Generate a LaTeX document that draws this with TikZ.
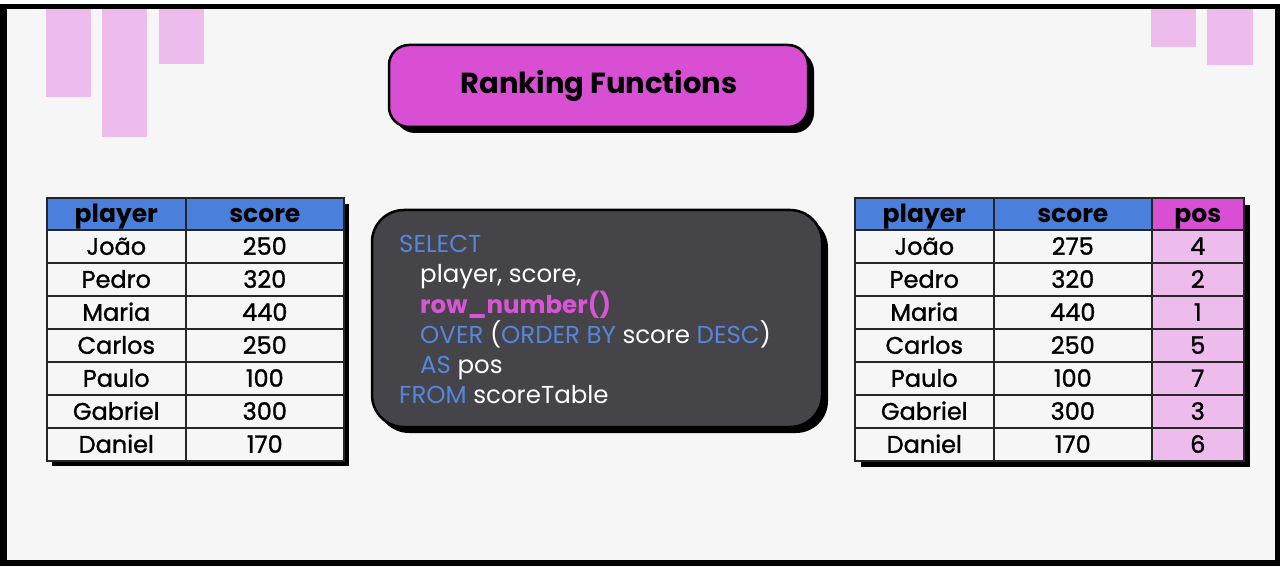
\documentclass[tikz,border=0pt]{standalone}
\usepackage{fontspec}
\setmainfont{Poppins}
\newfontfamily\medfont[FakeBold=1.2]{Poppins}
\definecolor{bg}{HTML}{F6F6F6}
\definecolor{pinkl}{HTML}{EEBCEC}
\definecolor{mag}{HTML}{D94FD4}
\definecolor{blu}{HTML}{4A80DC}
\definecolor{codebg}{HTML}{454449}
\definecolor{codeblue}{HTML}{5586DE}
\definecolor{codemag}{HTML}{DA55D6}
\begin{document}
\begin{tikzpicture}[x=1pt,y=-1pt,
  cell/.style={draw=black!85, line width=1.6pt, fill=bg, inner sep=0pt, anchor=north west,
    minimum height=33pt, text height=17pt, text depth=0pt,
    font=\fontsize{24}{24}\medfont},
  hcell/.style={cell, fill=blu, minimum height=32pt, font=\fontsize{25}{25}\selectfont\bfseries},
  deco/.style={fill=pinkl},
  codeline/.style={anchor=base west, inner sep=0pt, text=white, font=\fontsize{24.5}{24.5}\selectfont}]
\useasboundingbox (0,0) rectangle (1282,569);
% frame
\fill[white] (0,0) rectangle (1282,569);
\fill[black] (0,4) rectangle (1280,566);
\fill[bg] (7,9) rectangle (1275,560);
% decorations
\fill[deco] (46,9) rectangle (91,97);
\fill[deco] (102,9) rectangle (147,137);
\fill[deco] (159,9) rectangle (204,64);
\fill[deco] (1151,9) rectangle (1196,47);
\fill[deco] (1207,9) rectangle (1253,65);
% title
\fill[black, rounded corners=20pt] (395,51) rectangle (814,133);
\draw[fill=mag, line width=2.5pt, rounded corners=20pt] (389,45) rectangle (808,127);
\node[font=\fontsize{29}{29}\selectfont\bfseries] (title) at (599,86) {Ranking Functions};
% left table
\fill[black] (52,204) rectangle (349,466);
\node[hcell, minimum width=139pt] (lh1) at (46,197) {player};
\node[hcell, minimum width=158pt] (lh2) at (185,197) {score};
\foreach \n/\s [count=\i from 0] in {João/250,Pedro/320,Maria/440,Carlos/250,Paulo/100,Gabriel/300,Daniel/170}{
  \node[cell, minimum width=139pt] (lp\i) at (46,229+33*\i) {\n};
  \node[cell, minimum width=158pt] (ls\i) at (185,229+33*\i) {\s};
}
% right table
\fill[black] (861,205) rectangle (1250,467);
\node[hcell, minimum width=139pt] (rh1) at (854,197) {player};
\node[hcell, minimum width=158pt] (rh2) at (993,197) {score};
\node[hcell, fill=mag, minimum width=92pt] (rh3) at (1151,197) {pos};
\foreach \n/\s/\p [count=\i from 0] in {João/275/4,Pedro/320/2,Maria/440/1,Carlos/250/5,Paulo/100/7,Gabriel/300/3,Daniel/170/6}{
  \node[cell, minimum width=139pt] (rp\i) at (854,229+33*\i) {\n};
  \node[cell, minimum width=158pt] (rs\i) at (993,229+33*\i) {\s};
  \node[cell, fill=pinkl, minimum width=92pt] (rq\i) at (1151,229+33*\i) {\p};
}
% code box
\fill[black, rounded corners=32pt] (377,216) rectangle (828,433);
\draw[fill=codebg, line width=2.5pt, rounded corners=32pt] (372,210) rectangle (822,427);
\node[codeline, text=codeblue] (c1) at (399,253) {SELECT};
\node[codeline] (c2) at (420,283) {player, score,};
\node[codeline, text=codemag, font=\fontsize{24.5}{24.5}\selectfont\bfseries] (c3) at (420,313) {row\_number()};
\node[codeline] (c4) at (420,343) {\textcolor{codeblue}{OVER} (\textcolor{codeblue}{ORDER BY} score \textcolor{codeblue}{DESC})};
\node[codeline] (c5) at (420,373) {\textcolor{codeblue}{AS} pos};
\node[codeline] (c6) at (399,403) {\textcolor{codeblue}{FROM} scoreTable};
\end{tikzpicture}
\end{document}
